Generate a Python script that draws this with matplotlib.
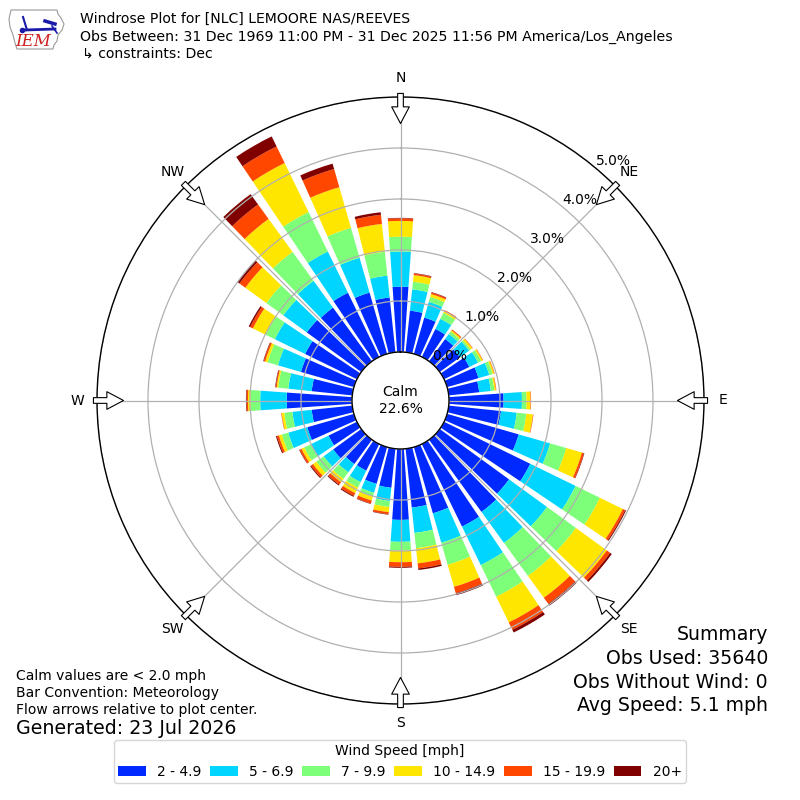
import numpy as np
import matplotlib
matplotlib.use("Agg")
import matplotlib.pyplot as plt
from matplotlib.patches import Patch, Polygon

# ---- data ----
directions = np.arange(0, 360, 10)  # degrees, meteorological convention
speed_labels = ["2 - 4.9", "5 - 6.9", "7 - 9.9", "10 - 14.9", "15 - 19.9", "20+"]
# percent of observations per direction for each speed bin
pct_2_5 = [1.28, 0.82, 0.74, 0.61, 0.54, 0.49, 0.55, 0.64, 0.60, 1.07, 1.03, 1.46,
           1.88, 1.68, 1.75, 1.80, 1.35, 1.16, 1.39, 0.77, 0.75, 0.58, 0.59, 0.68,
           0.62, 0.95, 0.80, 1.28, 0.80, 1.08, 1.13, 1.32, 1.30, 1.40, 1.25, 1.08]
pct_5_7 = [0.69, 0.42, 0.32, 0.22, 0.12, 0.22, 0.19, 0.22, 0.23, 0.36, 0.31, 0.64,
           0.99, 0.92, 0.75, 0.84, 0.60, 0.50, 0.43, 0.26, 0.18, 0.25, 0.20, 0.23,
           0.39, 0.39, 0.38, 0.52, 0.46, 0.47, 0.66, 0.57, 0.65, 0.90, 0.71, 0.43]
pct_7_10 = [0.29, 0.15, 0.10, 0.13, 0.06, 0.04, 0.07, 0.07, 0.07, 0.09, 0.19, 0.33,
            0.53, 0.70, 0.80, 0.69, 0.45, 0.30, 0.17, 0.12, 0.08, 0.12, 0.16, 0.18,
            0.14, 0.13, 0.16, 0.19, 0.20, 0.21, 0.20, 0.41, 0.70, 0.86, 0.61, 0.47]
pct_10_15 = [0.31, 0.13, 0.06, 0.04, 0.03, 0.04, 0.03, 0.03, 0.03, 0.08, 0.13, 0.32,
             0.50, 0.75, 0.53, 0.56, 0.45, 0.30, 0.23, 0.10, 0.08, 0.12, 0.08, 0.08,
             0.06, 0.06, 0.05, 0.05, 0.03, 0.05, 0.28, 0.51, 0.80, 1.07, 0.83, 0.55]
pct_15_20 = [0.05, 0.03, 0.03, 0.02, 0.02, 0.01, 0.01, 0.01, 0.01, 0.01, 0.01, 0.04,
             0.05, 0.08, 0.15, 0.16, 0.13, 0.10, 0.09, 0.04, 0.06, 0.06, 0.06, 0.05,
             0.04, 0.04, 0.01, 0.03, 0.02, 0.03, 0.06, 0.14, 0.35, 0.36, 0.37, 0.18]
pct_20p = [0.01, 0.01, 0.01, 0.00, 0.00, 0.00, 0.00, 0.00, 0.00, 0.00, 0.00, 0.01,
           0.02, 0.04, 0.04, 0.06, 0.04, 0.03, 0.02, 0.01, 0.01, 0.02, 0.02, 0.02,
           0.01, 0.02, 0.00, 0.01, 0.01, 0.01, 0.03, 0.05, 0.25, 0.22, 0.11, 0.05]
calm_pct = 22.6
rticks = [0, 1, 2, 3, 4, 5]
compass_dirs = [0, 45, 90, 135, 180, 225, 270, 315]
compass_labels = ["N", "NE", "E", "SE", "S", "SW", "W", "NW"]

series = [pct_2_5, pct_5_7, pct_7_10, pct_10_15, pct_15_20, pct_20p]
colors = plt.cm.jet(np.linspace(1 / 6, 1, 6))

fig = plt.figure(figsize=(8, 8), dpi=100)
ax = fig.add_axes([97 / 800, 96 / 800, 607 / 800, 607 / 800], projection="polar")
ax.set_theta_zero_location("N")
ax.set_theta_direction(-1)

theta = np.deg2rad(directions)
width = np.deg2rad(8.0)
bottom = np.zeros(len(directions))
for vals, col in zip(series, colors):
    vals = np.asarray(vals)
    ax.bar(theta, vals, width=width, bottom=bottom, color=col, linewidth=0,
           align="center", zorder=1)
    bottom = bottom + vals

ax.set_ylim(0, 5)
ax.set_rorigin(-48.5 / 51.0)
ax.set_yticks(rticks)
ax.set_yticklabels([f"{v:.1f}%" for v in rticks], fontsize=10)
ax.set_rlabel_position(40)
ax.set_xticks(np.deg2rad(compass_dirs))
ax.set_xticklabels([])
ax.grid(True, color="#b0b0b0", linewidth=0.9)
for sp in ax.spines.values():
    sp.set_color("black")
    sp.set_linewidth(1.0)

# calm label
ax.text(0.5, 0.5, f"Calm\n{calm_pct:.1f}%", transform=ax.transAxes,
        ha="center", va="center", fontsize=10, zorder=10)

# compass labels and flow arrows
for d, lab in zip(compass_dirs, compass_labels):
    th = np.deg2rad(d)
    ax.text(th, 5.38, lab, ha="center", va="center", fontsize=10, clip_on=False)
    ax.annotate("", xy=(th, 4.48), xytext=(th, 5.07),
                arrowprops=dict(arrowstyle="simple,head_length=1.2,head_width=1.27,tail_width=0.41",
                                fc="white", ec="black", lw=0.8, shrinkA=0, shrinkB=0,
                                mutation_scale=10),
                annotation_clip=False, zorder=6)

# header
fig.text(80 / 800, 1 - 19 / 800, "Windrose Plot for [NLC] LEMOORE NAS/REEVES",
         fontsize=10.1, va="center", ha="left")
fig.text(80 / 800, 1 - 37 / 800,
         "Obs Between: 31 Dec 1969 11:00 PM - 31 Dec 2025 11:56 PM America/Los_Angeles",
         fontsize=10.15, va="center", ha="left")
fig.text(82 / 800, 1 - 54 / 800, "\u21b3 constraints: Dec", fontsize=10.1, va="center", ha="left")

# logo
lax = fig.add_axes([5 / 800, 1 - 52 / 800, 62 / 800, 47 / 800])
lax.set_xlim(0, 62)
lax.set_ylim(47, 0)
lax.axis("off")
iowa = [(6, 5), (52, 5), (53, 9), (56, 13), (59, 19), (57, 25), (53, 30), (52, 36),
        (49, 40), (48, 44), (12, 44), (10, 38), (8, 30), (5, 22), (4, 14), (6, 5)]
lax.add_patch(Polygon(iowa, closed=True, fill=False, ec="#9a9a9a", lw=0.8))
lax.plot([20, 50], [25, 24], color="#1a1aa8", lw=2)
lax.plot([18, 22], [12, 25], color="#1a1aa8", lw=1.5)
lax.plot([40, 50], [16, 19], color="#1a1aa8", lw=2.5)
lax.plot([47, 52], [21, 28], color="#1a1aa8", lw=1.2)
lax.plot([17], [25], marker="o", color="#1a1aa8", ms=3)
lax.text(28, 37, "IEM", color="#cc2020", fontsize=12, family="serif", style="italic",
         ha="center", va="center")

# footer left
fig.text(16 / 800, 1 - 676 / 800, "Calm values are < 2.0 mph", fontsize=10, va="center")
fig.text(16 / 800, 1 - 693 / 800, "Bar Convention: Meteorology", fontsize=10, va="center")
fig.text(16 / 800, 1 - 710 / 800, "Flow arrows relative to plot center.", fontsize=10, va="center")
fig.text(16 / 800, 1 - 729 / 800, "Generated: 23 Jul 2026", fontsize=13.7, va="center")

# summary right
summary = ["Summary", "Obs Used: 35640", "Obs Without Wind: 0", "Avg Speed: 5.1 mph"]
for i, s in enumerate(summary):
    fig.text(768 / 800, 1 - (635 + 23.5 * i) / 800, s, fontsize=13.6, va="center", ha="right")

# legend
handles = [Patch(facecolor=c, edgecolor="none") for c in colors]
fig.legend(handles, speed_labels, loc="lower center", bbox_to_anchor=(0.5, 0.0125),
           ncol=6, title="Wind Speed [mph]", fontsize=10, title_fontsize=10,
           columnspacing=0.62, borderpad=0.3, frameon=True)

fig.savefig("out.png", dpi=100)
